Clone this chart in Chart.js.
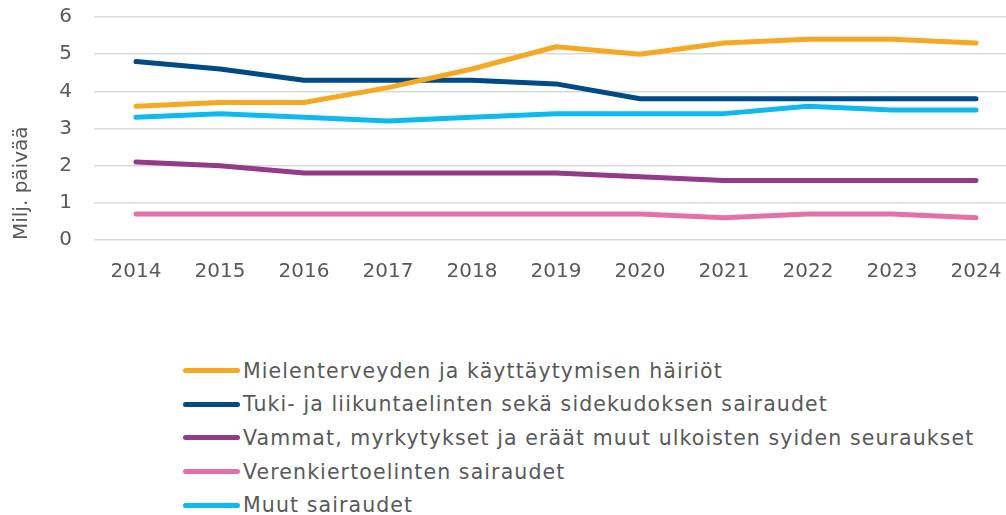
<!DOCTYPE html>
<html lang="fi">
<head>
<meta charset="utf-8">
<script src="https://cdn.jsdelivr.net/npm/chart.js@4.4.1/dist/chart.umd.min.js"></script>
<style>
    html, body { margin: 0; padding: 0; background: #fff; overflow: hidden; }
    #wrap { position: relative; width: 1006px; height: 515px; overflow: hidden; }
    #chartBox { position: absolute; left: 0; top: -17px; width: 1018px; height: 313px; }
    #legend { position: absolute; left: 183px; top: 354px; margin: 0; padding: 0; list-style: none;
        font-family: 'DejaVu Sans', sans-serif; font-size: 20.5px; letter-spacing: 1.1px; color: #595959; }
    #legend li { height: 33.6px; display: flex; align-items: center; white-space: nowrap; }
    #legend .swatch { display: inline-block; width: 57px; height: 5px; border-radius: 3px; margin-right: 3px; }
</style>
</head>
<body>
<div id="wrap">
    <div id="chartBox"><canvas id="chart"></canvas></div>
    <ul id="legend"></ul>
</div>
<script>
const years = ['2014', '2015', '2016', '2017', '2018', '2019', '2020', '2021', '2022', '2023', '2024'];

const mielenterveys = [3.6, 3.7, 3.7, 4.1, 4.6, 5.2, 5.0, 5.3, 5.4, 5.4, 5.3];
const tukiJaLiikunta = [4.8, 4.6, 4.3, 4.3, 4.3, 4.2, 3.8, 3.8, 3.8, 3.8, 3.8];
const vammat = [2.1, 2.0, 1.8, 1.8, 1.8, 1.8, 1.7, 1.6, 1.6, 1.6, 1.6];
const verenkierto = [0.7, 0.7, 0.7, 0.7, 0.7, 0.7, 0.7, 0.6, 0.7, 0.7, 0.6];
const muut = [3.3, 3.4, 3.3, 3.2, 3.3, 3.4, 3.4, 3.4, 3.6, 3.5, 3.5];

const yTicks = [0, 1, 2, 3, 4, 5, 6];
const yTitle = 'Milj. päivää';

const FONT = 'DejaVu Sans, sans-serif';
const TEXT = '#595959';

function line(label, data, color) {
    return {
        label: label,
        data: data,
        borderColor: color,
        backgroundColor: color,
        borderWidth: 5,
        borderCapStyle: 'round',
        borderJoinStyle: 'round',
        pointRadius: 0,
        tension: 0
    };
}

const chart = new Chart(document.getElementById('chart'), {
    type: 'line',
    data: {
        labels: years,
        datasets: [
            line('Mielenterveyden ja käyttäytymisen häiriöt', mielenterveys, '#F6A823'),
            line('Tuki- ja liikuntaelinten sekä sidekudoksen sairaudet', tukiJaLiikunta, '#004B87'),
            line('Vammat, myrkytykset ja eräät muut ulkoisten syiden seuraukset', vammat, '#953A88'),
            line('Verenkiertoelinten sairaudet', verenkierto, '#E56FA6'),
            line('Muut sairaudet', muut, '#0DB9EE')
        ]
    },
    options: {
        responsive: true,
        maintainAspectRatio: false,
        animation: false,
        layout: { padding: 0 },
        plugins: {
            legend: { display: false },
            tooltip: { enabled: false }
        },
        scales: {
            x: {
                offset: true,
                grid: { display: false },
                border: { display: false },
                ticks: {
                    color: TEXT,
                    padding: 12,
                    maxRotation: 0,
                    font: { family: FONT, size: 20 }
                }
            },
            y: {
                min: 0,
                max: 6,
                afterBuildTicks: axis => { axis.ticks = yTicks.map(v => ({ value: v })); },
                afterFit: axis => { axis.width = 94; },
                grid: { color: '#D9D9D9', lineWidth: 1.5, drawTicks: false },
                border: { display: false },
                ticks: {
                    color: TEXT,
                    padding: 22,
                    font: { family: FONT, size: 20 }
                },
                title: {
                    display: true,
                    text: yTitle,
                    align: 'start',
                    color: TEXT,
                    padding: { top: 10, bottom: 0 },
                    font: { family: FONT, size: 20 }
                }
            }
        }
    }
});

// legend as a plain list under the chart
const legendEl = document.getElementById('legend');
chart.data.datasets.forEach(ds => {
    const li = document.createElement('li');
    const sw = document.createElement('span');
    sw.className = 'swatch';
    sw.style.background = ds.borderColor;
    li.appendChild(sw);
    li.appendChild(document.createTextNode(ds.label));
    legendEl.appendChild(li);
});
</script>
</body>
</html>
